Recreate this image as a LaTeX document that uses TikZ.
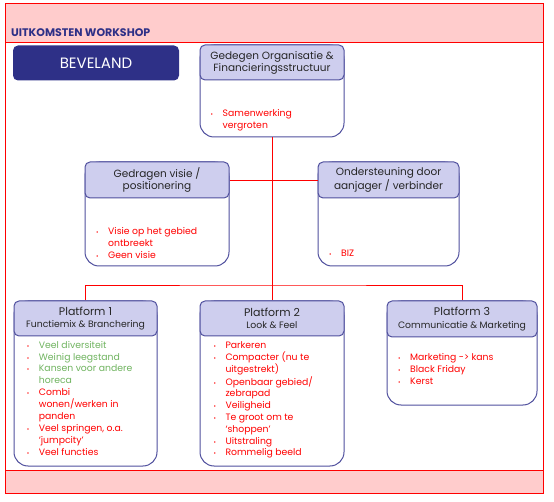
\documentclass[tikz,border=0pt]{standalone}
\usepackage{fontspec}
\setmainfont{Poppins}
\definecolor{WSRed}{RGB}{255,0,0}
\definecolor{WSPink}{RGB}{255,204,204}
\definecolor{WSNavy}{RGB}{46,48,135}
\definecolor{WSBorder}{RGB}{80,80,158}
\definecolor{WSLavender}{RGB}{206,206,238}
\definecolor{WSGreen}{RGB}{112,180,96}
\newcommand{\lijstpunt}{{\fontsize{6}{6}\selectfont\textbullet}}

\begin{document}
\begin{tikzpicture}[x=1pt,y=-1pt,
    kop/.style={draw=WSBorder,line width=1pt,fill=WSLavender,rounded corners=5pt,minimum height=35pt,inner sep=0pt,align=center,text=black!85,font=\fontsize{10.5}{12}\selectfont},
    vak/.style={draw=WSBorder,line width=1pt,fill=white,rounded corners=14pt,inner sep=0pt},
    lijst/.style={anchor=base west,inner sep=0pt,text=WSRed,font=\fontsize{9.3}{11.8}\selectfont},
    verbind/.style={draw=WSRed,line width=0.8pt}]
  \useasboundingbox (0,0) rectangle (554,502);
  % kader met kop- en voetband
  \draw[WSRed,line width=1pt] (5,4) rectangle (543,493);
  \draw[WSRed,line width=1pt,fill=WSPink] (5,4) rectangle (543,43);
  \draw[WSRed,line width=1pt,fill=WSPink] (5,470) rectangle (543,493);
  \node[anchor=base west,inner sep=0pt,text=WSNavy,font=\fontsize{11}{12}\bfseries] (titel) at (11,36.5) {UITKOMSTEN WORKSHOP};
  \node[fill=WSNavy,rounded corners=5pt,minimum width=166pt,minimum height=35pt,text=white,font=\fontsize{15}{17}\selectfont] (beveland) at (96,63) {BEVELAND};

  % bovenste laag
  \node[vak,minimum width=144pt,minimum height=92pt] (org) at (272,91) {};
  \node[kop,minimum width=144pt] (org-h) at (272,62.5) {Gedegen Organisatie \&\\Financieringsstructuur};
  \node[lijst] (org-l) at (210.5,116.5) {\begin{tabular}[t]{@{}p{12pt}@{}l@{}}
    \lijstpunt & Samenwerking\\
    & vergroten
  \end{tabular}};

  % middelste laag
  \node[vak,minimum width=144pt,minimum height=104pt] (visie) at (157,214) {};
  \node[kop,minimum width=144pt,minimum height=36pt] (visie-h) at (157,180) {Gedragen visie /\\positionering};
  \node[lijst] (visie-l) at (96,234.5) {\begin{tabular}[t]{@{}p{12pt}@{}l@{}}
    \lijstpunt & Visie op het gebied\\
    & ontbreekt\\
    \lijstpunt & Geen visie
  \end{tabular}};
  \node[vak,minimum width=141pt,minimum height=104pt] (steun) at (388.5,214) {};
  \node[kop,minimum width=141pt,minimum height=36pt] (steun-h) at (388.5,180) {Ondersteuning door\\aanjager / verbinder};
  \node[lijst] (steun-l) at (329,257) {\begin{tabular}[t]{@{}p{12pt}@{}l@{}}
    \lijstpunt & BIZ
  \end{tabular}};

  % platforms
  \node[vak,minimum width=143pt,minimum height=165pt] (p1) at (85.5,383.5) {};
  \node[kop,minimum width=143pt,font=\fontsize{11}{12.5}\selectfont] (p1-h) at (85.5,318.5) {Platform 1\\{\fontsize{9.3}{12}\selectfont Functiemix \& Branchering}};
  \node[lijst] (p1-l) at (26.7,348.3) {\begin{tabular}[t]{@{}p{12pt}@{}l@{}}
    \lijstpunt & \color{WSGreen}Veel diversiteit\\
    \lijstpunt & \color{WSGreen}Weinig leegstand\\
    \lijstpunt & \color{WSGreen}Kansen voor andere\\
    & \color{WSGreen}horeca\\
    \lijstpunt & Combi\\
    & wonen/werken in\\
    & panden\\
    \lijstpunt & Veel springen, o.a.\\
    & `jumpcity'\\
    \lijstpunt & Veel functies
  \end{tabular}};

  \node[vak,minimum width=144pt,minimum height=165pt] (p2) at (272,383.5) {};
  \node[kop,minimum width=144pt,font=\fontsize{11}{12.5}\selectfont] (p2-h) at (272,318.5) {Platform 2\\{\fontsize{9.3}{12}\selectfont Look \& Feel}};
  \node[lijst] (p2-l) at (213.3,348.3) {\begin{tabular}[t]{@{}p{12pt}@{}l@{}}
    \lijstpunt & Parkeren\\
    \lijstpunt & Compacter (nu te\\
    & uitgestrekt)\\
    \lijstpunt & Openbaar gebied/\\
    & zebrapad\\
    \lijstpunt & Veiligheid\\
    \lijstpunt & Te groot om te\\
    & `shoppen'\\
    \lijstpunt & Uitstraling\\
    \lijstpunt & Rommelig beeld
  \end{tabular}};

  \node[vak,minimum width=150pt,minimum height=104pt] (p3) at (462,353) {};
  \node[kop,minimum width=150pt,minimum height=36pt,font=\fontsize{11}{12.5}\selectfont] (p3-h) at (462,319) {Platform 3\\{\fontsize{9.3}{12}\selectfont Communicatie \& Marketing}};
  \node[lijst] (p3-l) at (398,360.7) {\begin{tabular}[t]{@{}p{12pt}@{}l@{}}
    \lijstpunt & Marketing -> kans\\
    \lijstpunt & Black Friday\\
    \lijstpunt & Kerst
  \end{tabular}};

  % verbindingen
  \coordinate (splits) at (272,285);
  \draw[verbind] (org) -- (p2-h);
  \draw[verbind] (visie-h) -- (steun-h);
  \draw[verbind] (p1-h) |- (splits) -| (p3-h);
\end{tikzpicture}
\end{document}
